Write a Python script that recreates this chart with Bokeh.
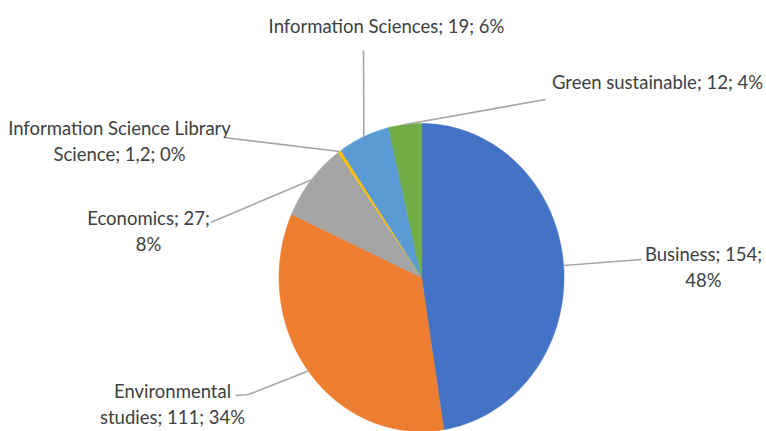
import numpy as np
from bokeh.plotting import figure
from bokeh.models import Range1d
from bokeh.core.properties import value
from bokeh.embed import file_html
from bokeh.resources import INLINE

# ---- data ----
categories = ["Business", "Environmental studies", "Economics",
              "Information Science Library Science", "Information Sciences",
              "Green sustainable"]
values = [154, 111, 27, 1.2, 19, 12]
value_labels = ["154", "111", "27", "1,2", "19", "12"]
colors = ["#4472C4", "#ED7D31", "#A5A5A5", "#FFC000", "#5B9BD5", "#70AD47"]
# where each data label wraps onto a second line (None = single line)
break_after = ["Business; 154;", "Environmental", "Economics; 27;",
               "Information Science Library", None, None]

# ---- layout (reference pixel coordinates) ----
W, H = 766, 431
cx, cy, rx, ry = 421.0, 277.0, 142.5, 154.0
# label centre x, first-line centre y
label_pos = [(703, 253), (172, 390), (148, 217), (119, 127), (386, 25), (657, 81)]
# leader line outer points (from slice edge toward label)
leader_pts = [[(641, 259)], [(248, 394), (235, 395)], [(210, 222)],
              [(223, 137)], [(363, 50)], [(545, 99)]]
line_gap = 26

p = figure(width=W, height=H, x_range=Range1d(0, W), y_range=Range1d(H, 0),
           output_backend="svg", toolbar_location=None, min_border=0)
p.axis.visible = False
p.grid.visible = False
p.outline_line_color = None
p.background_fill_color = "white"
p.border_fill_color = "white"

vals = np.array(values, dtype=float)
frac = vals / vals.sum()
cum = np.concatenate([[0], np.cumsum(frac)])

xs, ys = [], []
for i in range(len(vals)):
    a = np.radians(90 - 360 * np.linspace(cum[i], cum[i + 1], 120))
    xs.append(list(np.concatenate([[cx], cx + rx * np.cos(a)])))
    ys.append(list(np.concatenate([[cy], cy - ry * np.sin(a)])))
p.patches(xs, ys, fill_color=colors, line_color=colors, line_width=0.5)

# leader lines
lx, ly = [], []
for i in range(len(vals)):
    mid = np.radians(90 - 360 * (cum[i] + cum[i + 1]) / 2)
    pts = [(cx + rx * np.cos(mid), cy - ry * np.sin(mid))] + leader_pts[i]
    lx.append([q[0] for q in pts])
    ly.append([q[1] for q in pts])
p.multi_line(lx, ly, line_color="#A6A6A6", line_width=1.6)

# labels
tx, ty, tt = [], [], []
for i, c in enumerate(categories):
    pct = int(round(frac[i] * 100))
    full = f"{c}; {value_labels[i]}; {pct}%"
    b = break_after[i]
    lines = [full] if b is None else [b, full[len(b):].strip()]
    for k, ln in enumerate(lines):
        tx.append(label_pos[i][0])
        ty.append(label_pos[i][1] + k * line_gap)
        tt.append(ln)
p.text(tx, ty, text=tt, text_align="center", text_baseline="middle",
       text_font=value("Lato"), text_font_size="18.5px", text_color="#404040")

open("out.html", "w").write(file_html(p, INLINE))
